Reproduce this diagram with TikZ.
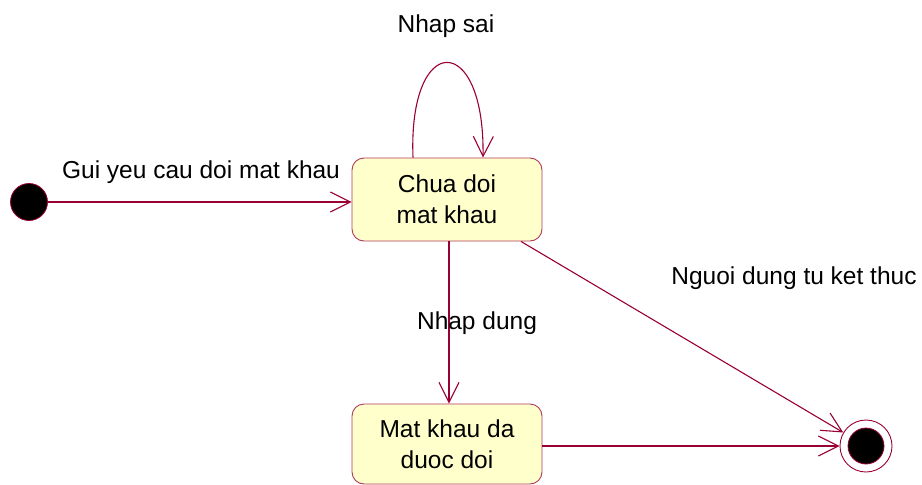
\documentclass[tikz,border=0pt]{standalone}
\usepackage{fontspec}
\setmainfont{Liberation Sans}
\usetikzlibrary{arrows.meta}
\definecolor{edge}{HTML}{990033}
\definecolor{boxfill}{HTML}{FFFFCC}
\definecolor{boxline}{HTML}{B03A5B}
\begin{document}
\begin{tikzpicture}[x=1pt,y=-1pt,
  statebox/.style={draw=boxline, fill=boxfill, rounded corners=12pt, line width=0.9pt,
    minimum width=190pt, align=center, font=\fontsize{24.5}{31}\selectfont, inner sep=0pt},
  lbl/.style={font=\fontsize{24.5}{28}\selectfont, inner sep=0pt},
  trans/.style={draw=edge, line width=1.1pt,
    -{Straight Barb[length=20pt,width=20pt,line width=1.1pt]}}]
\useasboundingbox (0,0) rectangle (922,485);

% states
\node[circle, fill=black, draw=edge, line width=0.8pt, minimum size=37pt, inner sep=0pt] (init) at (29,202) {};
\node[statebox, minimum height=83pt] (chua) at (447,199.5) {Chua doi\\mat khau};
\node[statebox, minimum height=80pt] (mat) at (447,444) {Mat khau da\\duoc doi};
\node[circle, draw=edge, line width=0.9pt, minimum size=52pt, inner sep=0pt] (fin) at (866,446) {};
\node[circle, fill=black, draw=edge, line width=0.8pt, minimum size=36pt, inner sep=0pt] (finin) at (fin.center) {};

% transitions
\draw[trans] (init.east) -- (init -| chua.west);
\coordinate (loopa) at ([xshift=-34pt]chua.north);
\coordinate (loopb) at ([xshift=36pt]chua.north);
\draw[trans] (loopa) .. controls (408,31) and (485,31) .. (loopb);
\draw[trans] ([xshift=2pt]chua.south) -- ([xshift=2pt]mat.north);
\coordinate (diag) at ([xshift=74pt]chua.south);
\draw[trans] (diag) -- (fin);
\draw[trans] (mat.east |- fin.west) -- (fin.west);

% labels
\node[lbl] (l1) at (201,172) {Gui yeu cau doi mat khau};
\node[lbl] (l2) at (446,26) {Nhap sai};
\node[lbl] (l3) at (477,323) {Nhap dung};
\node[lbl] (l4) at (794,278) {Nguoi dung tu ket thuc};
\end{tikzpicture}
\end{document}
